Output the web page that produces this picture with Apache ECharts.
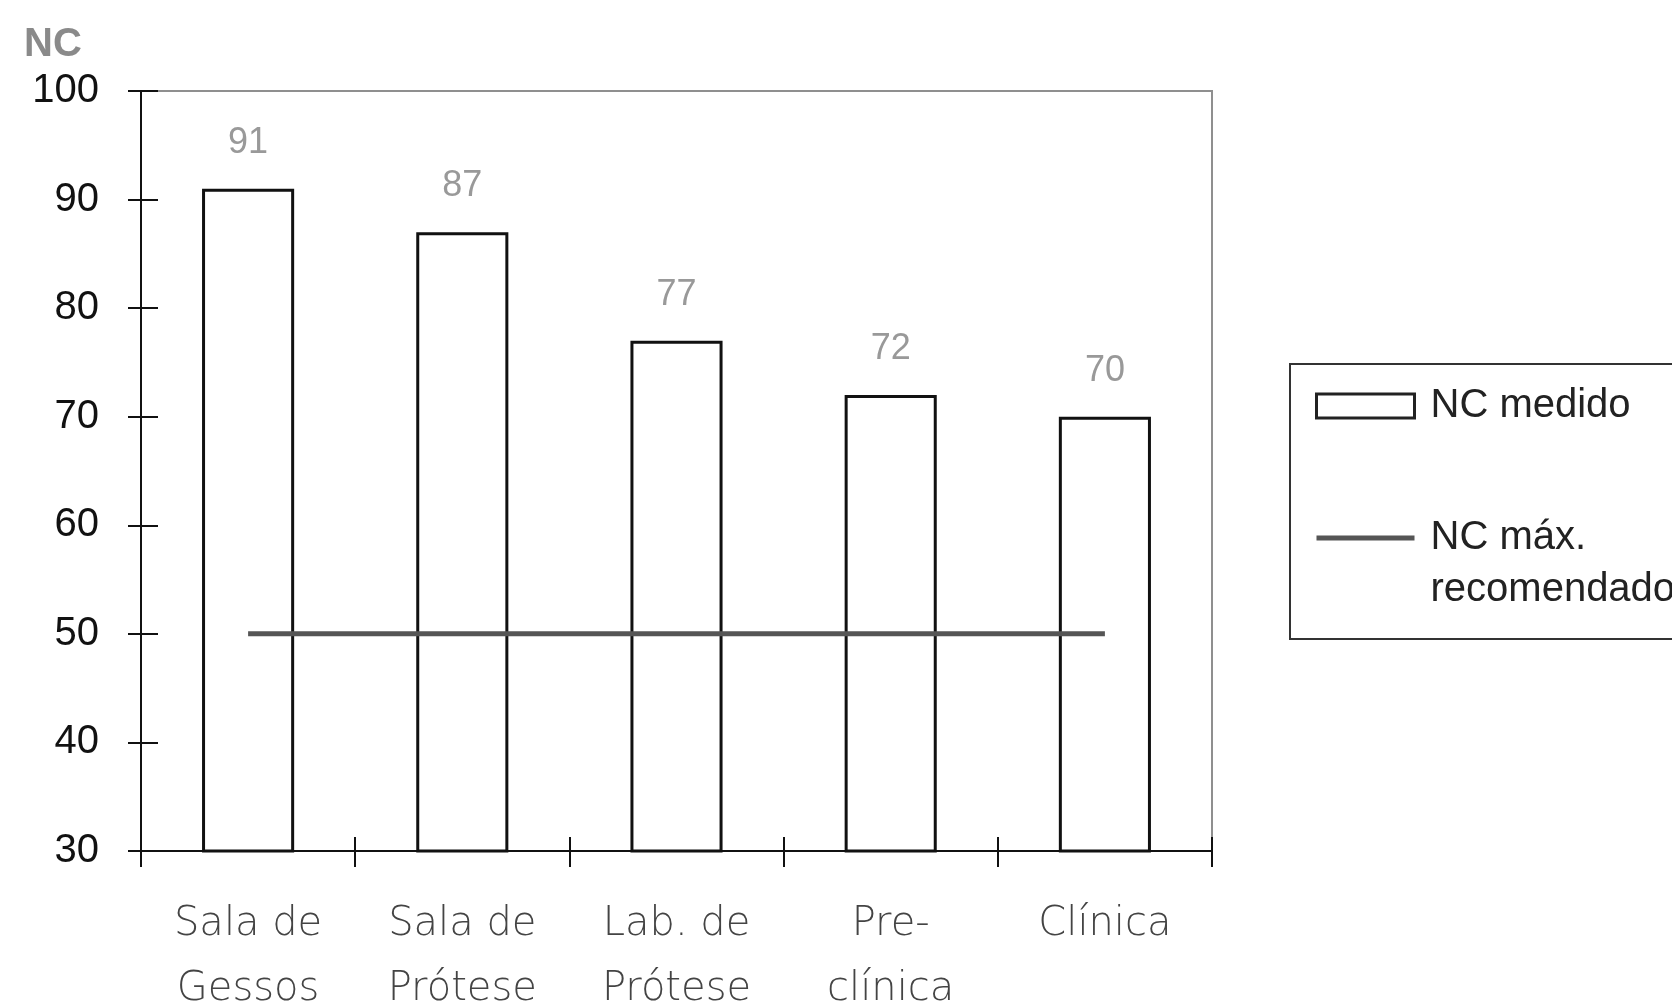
<!DOCTYPE html>
<html>
<head>
<meta charset="utf-8">
<script src="https://cdn.jsdelivr.net/npm/echarts@6/dist/echarts.min.js"></script>
<style>
html,body{margin:0;padding:0;background:#fff;}
#chart{width:1672px;height:1008px;}
</style>
</head>
<body>
<div id="chart"></div>
<script>
const categories = ['Sala de\nGessos', 'Sala de\nPrótese', 'Lab. de\nPrótese', 'Pre-\nclínica', 'Clínica'];
const ncMedido = [91, 87, 77, 72, 70];
const ncMax = [50, 50, 50, 50, 50];
const yMin = 30, yMax = 100, yInterval = 10;
const seriesNames = ['NC medido', 'NC máx. recomendado'];

const chart = echarts.init(document.getElementById('chart'));
const baseFont = '"Liberation Sans", Arial, sans-serif';
const gridBox = {left: 141, right: 460, top: 91, bottom: 157, outerBoundsMode: 'none', containLabel: false};
chart.setOption({
  backgroundColor: '#fff',
  animation: false,
  title: {
    text: 'NC', left: 24, top: 25, padding: 0,
    textStyle: {fontFamily: baseFont, fontSize: 40, fontWeight: 'bold', color: '#8a8a8a'}
  },
  grid: [
    Object.assign({show: true, borderColor: '#8f8f8f', borderWidth: 2, backgroundColor: 'transparent'}, gridBox),
    Object.assign({show: false}, gridBox)
  ],
  legend: {
    orient: 'vertical', left: 1290, top: 364,
    padding: [16, 40, 23, 25],
    borderColor: '#333', borderWidth: 2,
    itemWidth: 98, itemHeight: 24, itemGap: 28,
    selectedMode: false,
    textStyle: {fontFamily: baseFont, fontSize: 40, color: '#222', lineHeight: 52, padding: [0, 0, 0, 11]},
    data: [
      {name: seriesNames[0], icon: 'rect', itemStyle: {color: '#fff', borderColor: '#222', borderWidth: 3}},
      {name: seriesNames[1], icon: 'path://M0,0H100V5H0Z', itemStyle: {color: '#555', borderWidth: 0}}
    ],
    formatter: function (n) { return n === seriesNames[1] ? ' \nNC máx.\nrecomendado' : n; }
  },
  xAxis: [{
    type: 'category', data: categories,
    axisLine: {lineStyle: {color: '#111', width: 2}},
    axisTick: {show: true, length: 16, inside: false, lineStyle: {color: '#111', width: 2}},
    axisLabel: {margin: 41, fontFamily: '"DejaVu Sans", sans-serif', fontWeight: 200, fontSize: 40, color: '#444', lineHeight: 65, interval: 0}
  }, {
    type: 'category', data: categories, position: 'bottom',
    axisLine: {show: false},
    axisTick: {show: true, length: 14, inside: true, lineStyle: {color: '#111', width: 2}},
    axisLabel: {show: false}
  }, {
    type: 'category', data: categories, gridIndex: 1,
    axisLine: {show: false}, axisTick: {show: false}, axisLabel: {show: false}
  }],
  yAxis: [{
    type: 'value', min: yMin, max: yMax, interval: yInterval,
    splitLine: {show: false},
    axisLine: {show: true, lineStyle: {color: '#111', width: 2}},
    axisTick: {show: true, length: 13, lineStyle: {color: '#111', width: 2}},
    axisLabel: {margin: 42, fontFamily: baseFont, fontSize: 40, color: '#111'}
  }, {
    type: 'value', min: yMin, max: yMax, interval: yInterval, gridIndex: 1, position: 'left',
    splitLine: {show: false},
    axisLine: {show: false},
    axisTick: {show: true, inside: true, length: 17, lineStyle: {color: '#111', width: 2}},
    axisLabel: {show: false}
  }],
  series: [{
    name: seriesNames[0], type: 'bar', data: ncMedido, barWidth: '43%',
    itemStyle: {color: '#fff', borderColor: '#111', borderWidth: 3},
    label: {show: true, position: 'top', distance: 28, fontFamily: baseFont, fontSize: 36, color: '#999'}
  }, {
    name: seriesNames[1], type: 'line', data: ncMax, symbol: 'none', z: 5,
    xAxisIndex: 2, yAxisIndex: 1,
    lineStyle: {color: '#555', width: 5}, itemStyle: {color: '#555'}
  }]
});
</script>
</body>
</html>
